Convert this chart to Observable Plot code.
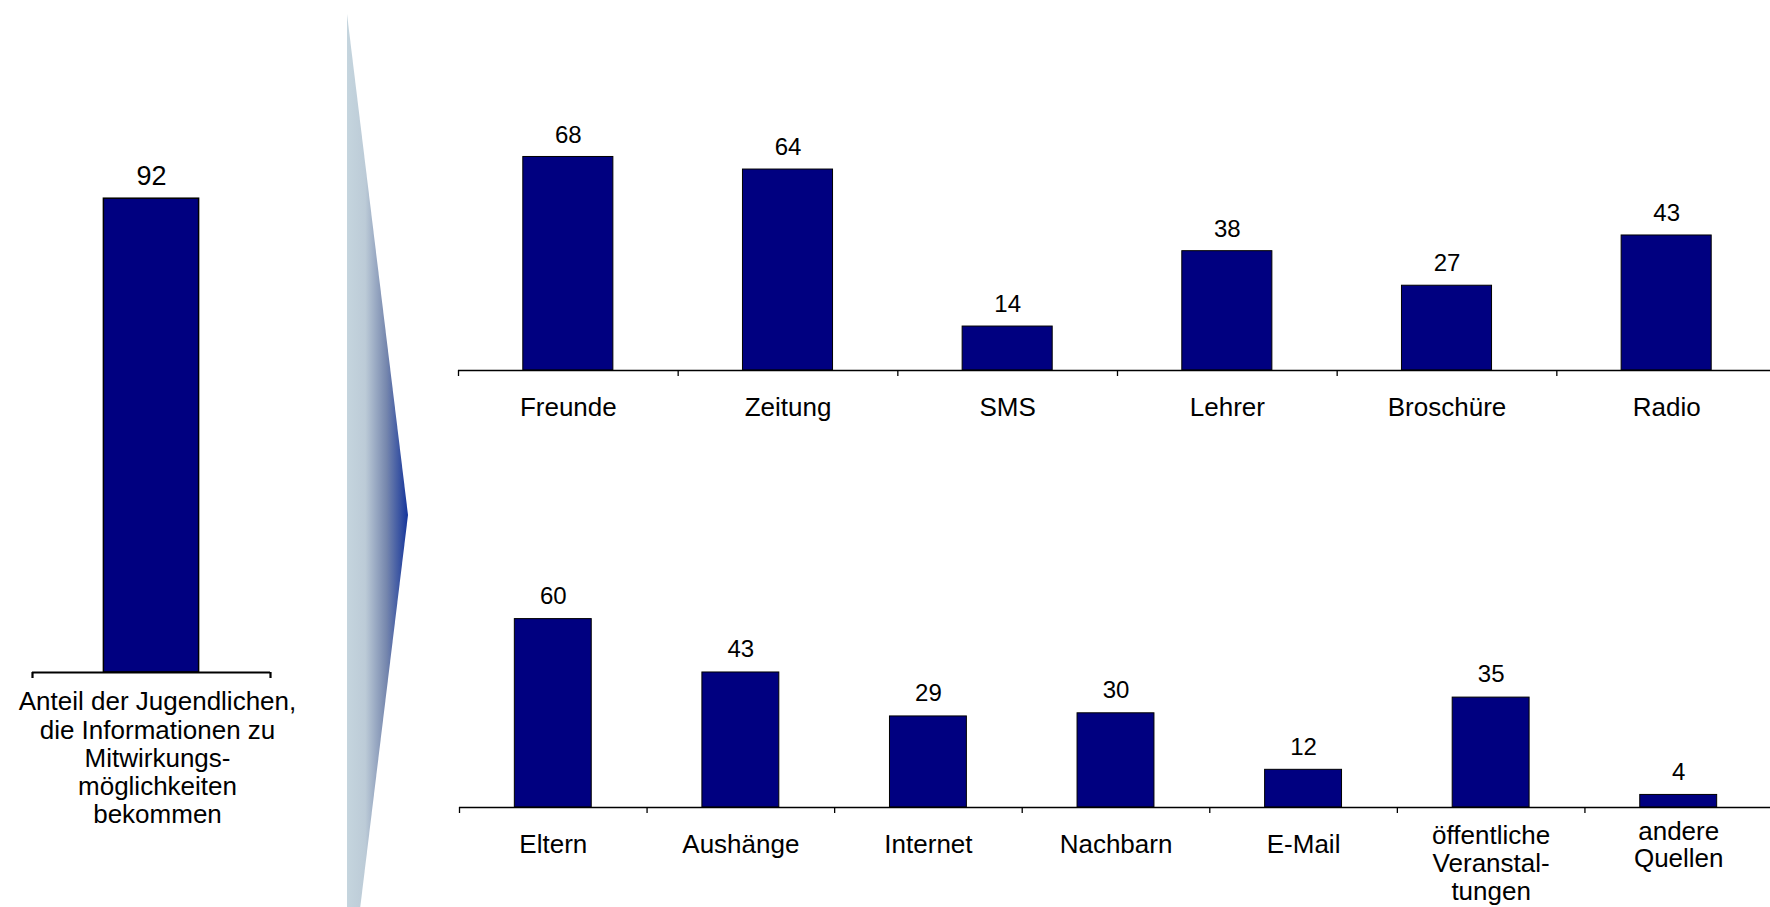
<!DOCTYPE html>
<html>
<head>
<meta charset="utf-8">
<script src="https://cdn.jsdelivr.net/npm/d3@7"></script>
<script src="https://cdn.jsdelivr.net/npm/@observablehq/plot@0.6"></script>
<style>
  html, body { margin: 0; padding: 0; background: #fff; }
  #root { position: relative; width: 1770px; height: 907px; overflow: hidden; background: #fff; }
  #root > svg, #root > div { position: absolute; }
</style>
</head>
<body>
<div id="root"></div>
<script>
// ---- data ----
const leftCategories = ["Anteil der Jugendlichen,\ndie Informationen zu\nMitwirkungs-\nmöglichkeiten\nbekommen"];
const leftValues = [92];
const topCategories = ["Freunde", "Zeitung", "SMS", "Lehrer", "Broschüre", "Radio"];
const topValues = [68, 64, 14, 38, 27, 43];
const bottomCategories = ["Eltern", "Aushänge", "Internet", "Nachbarn", "E-Mail", "öffentliche\nVeranstal-\ntungen", "andere\nQuellen"];
const bottomValues = [60, 43, 29, 30, 12, 35, 4];

const FONT = "'Liberation Sans', Arial, Helvetica, sans-serif";
const BAR = "#000080";
const root = document.getElementById("root");

function chart(cats, vals, o) {
  const data = cats.map((c, i) => ({i, c, v: vals[i], lines: c.split("\n").length}));
  const n = cats.length;
  const innerW = o.width - o.marginLeft - (o.marginRight || 0);
  const step = innerW / n;
  const inset = step * (1 - o.barFrac) / 2;
  const p = Plot.plot({
    width: o.width,
    height: o.height,
    marginLeft: o.marginLeft,
    marginRight: o.marginRight || 0,
    marginTop: o.marginTop,
    marginBottom: o.marginBottom,
    x: {type: "linear", domain: [0, n], axis: null},
    y: {domain: [0, 100], axis: null},
    style: {fontFamily: FONT, color: "black", background: "transparent", overflow: "visible"},
    marks: [
      Plot.rectY(data, {x1: d => d.i, x2: d => d.i + 1, y: "v", insetLeft: inset, insetRight: inset,
        fill: BAR, stroke: "black", strokeWidth: o.barStroke || 1}),
      Plot.ruleY([0], {stroke: "black", strokeWidth: o.axisWidth || 1.3}),
      Plot.axisX({ticks: d3.range(0, n + 1), tickFormat: () => "", tickSize: 6, label: null,
        stroke: "black", strokeWidth: o.axisWidth || 1.3}),
      Plot.text(data, {x: d => d.i + 0.5, y: "v", text: d => String(d.v), dy: o.valueDy,
        fontSize: o.valueSize, fill: "black"}),
      Plot.text(data.filter(d => d.lines <= 2), {x: d => d.i + 0.5, text: "c", frameAnchor: "bottom",
        lineAnchor: "middle", dy: o.labelDy, dx: o.labelDx || 0, fontSize: o.labelSize, lineHeight: o.lineHeight, fill: "black"}),
      Plot.text(data.filter(d => d.lines > 2), {x: d => d.i + 0.5, text: "c", frameAnchor: "bottom",
        lineAnchor: "top", dy: o.labelDyTop, dx: o.labelDx || 0, fontSize: o.labelSize, lineHeight: o.lineHeight, fill: "black"})
    ]
  });
  p.style.left = o.left + "px";
  p.style.top = o.top + "px";
  root.appendChild(p);
}

// left chart
chart(leftCategories, leftValues, {
  left: 0, top: 0, width: 270, height: 907, marginLeft: 32, marginTop: 157, marginBottom: 235,
  barFrac: 0.40, valueSize: 27, valueDy: -22, labelSize: 26, lineHeight: 1.08,
  labelDy: 29, labelDyTop: 18, labelDx: 6, axisWidth: 2.2, barStroke: 1.5
});

// top-right chart
chart(topCategories, topValues, {
  left: 448, top: 0, width: 1328, height: 430, marginLeft: 10, marginTop: 56, marginBottom: 60,
  barFrac: 0.41, valueSize: 24, valueDy: -22, labelSize: 26, lineHeight: 1.08,
  labelDy: 36, labelDyTop: 20
});

// bottom-right chart
chart(bottomCategories, bottomValues, {
  left: 449, top: 437, width: 1323, height: 470, marginLeft: 10, marginTop: 56, marginBottom: 100,
  barFrac: 0.41, valueSize: 24, valueDy: -23, labelSize: 26, lineHeight: 1.07,
  labelDy: 37, labelDyTop: 17
});

// decorative arrow between the panels
const ns = "http://www.w3.org/2000/svg";
const arrow = document.createElementNS(ns, "svg");
arrow.setAttribute("width", 1770);
arrow.setAttribute("height", 907);
arrow.style.left = "0px"; arrow.style.top = "0px";
arrow.innerHTML = `
  <defs>
    <linearGradient id="ag" gradientUnits="userSpaceOnUse" x1="347" y1="0" x2="408" y2="0">
      <stop offset="0" stop-color="#c5d5de"/>
      <stop offset="0.3" stop-color="#bccbd7"/>
      <stop offset="0.65" stop-color="#7586ad"/>
      <stop offset="1" stop-color="#14349b"/>
    </linearGradient>
  </defs>
  <polygon points="347,14 408,515 347,1016" fill="url(#ag)"/>`;
root.appendChild(arrow);
</script>
</body>
</html>
